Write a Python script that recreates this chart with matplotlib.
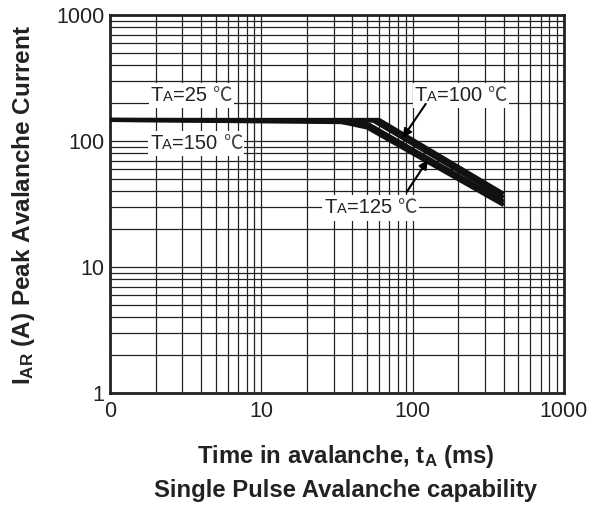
import matplotlib
matplotlib.use('Agg')
import matplotlib.pyplot as plt
from matplotlib.ticker import FixedLocator, LogLocator, NullFormatter
from matplotlib.offsetbox import TextArea, HPacker, AnnotationBbox

plt.rcParams['font.family'] = ['Liberation Sans', 'Noto Sans CJK SC', 'DejaVu Sans']
plt.rcParams['mathtext.fontset'] = 'custom'
plt.rcParams['mathtext.rm'] = 'Liberation Sans'
plt.rcParams['mathtext.bf'] = 'Liberation Sans:bold'

# avalanche curves (time ms, current A)
t_25 = [1, 60, 400]
i_25 = [147, 147, 38]
t_100 = [1, 55, 400]
i_100 = [147, 145, 35.5]
t_125 = [1, 40, 52, 400]
i_125 = [147, 141, 134, 33]
t_150 = [1, 30, 50, 400]
i_150 = [147, 146, 128, 31]

x_ticks = [1, 10, 100, 1000]
x_tick_labels = ['0', '10', '100', '1000']
y_ticks = [1, 10, 100, 1000]
y_tick_labels = ['1', '10', '100', '1000']


def temp_label(ax, x, y, temp):
    """T with a small A, then the temperature, on a white box."""
    parts = [TextArea('T', textprops=dict(fontsize=14.5, color='#222222')),
             TextArea('A', textprops=dict(fontsize=10.5, color='#222222')),
             TextArea('=' + temp, textprops=dict(fontsize=14.5, color='#222222')),
             TextArea('℃', textprops=dict(fontsize=14, color='#444444',
                                          family=['Noto Sans CJK SC']))]
    pack = HPacker(children=parts, align='baseline', pad=0, sep=0)
    # small gap between the number and the degree sign
    pack = HPacker(children=[HPacker(children=parts[:3], align='baseline', pad=0, sep=0),
                             parts[3]], align='baseline', pad=0, sep=4)
    ab = AnnotationBbox(pack, (x, y), xycoords='data', frameon=True, pad=0.15,
                        bboxprops=dict(facecolor='white', edgecolor='none'), zorder=4)
    ax.add_artist(ab)


fig = plt.figure(figsize=(5.99, 5.08), dpi=100)
ax = fig.add_axes([110 / 599, 115 / 508, 454 / 599, 378 / 508])

for t, i in [(t_25, i_25), (t_100, i_100), (t_125, i_125), (t_150, i_150)]:
    ax.plot(t, i, color='#111111', lw=3, solid_capstyle='butt', zorder=3)

ax.set_xscale('log')
ax.set_yscale('log')
ax.set_xlim(1, 1000)
ax.set_ylim(1, 1000)

ax.xaxis.set_major_locator(FixedLocator(x_ticks))
ax.set_xticklabels(x_tick_labels)
ax.yaxis.set_major_locator(FixedLocator(y_ticks))
ax.set_yticklabels(y_tick_labels)
ax.xaxis.set_minor_locator(LogLocator(base=10, subs=range(2, 10)))
ax.yaxis.set_minor_locator(LogLocator(base=10, subs=range(2, 10)))
ax.xaxis.set_minor_formatter(NullFormatter())
ax.yaxis.set_minor_formatter(NullFormatter())
ax.tick_params(which='both', length=0, labelsize=15.5, colors='#222222')
ax.tick_params(axis='x', pad=6)
ax.tick_params(axis='y', pad=4)

ax.grid(which='both', color='#222222', lw=0.9)
ax.set_axisbelow(True)
for s in ax.spines.values():
    s.set_linewidth(2)
    s.set_color('#222222')

temp_label(ax, 3.44, 228, '25')
temp_label(ax, 3.71, 96, '150')
temp_label(ax, 208, 228, '100')
temp_label(ax, 52.7, 29.4, '125')

arrow = dict(arrowstyle='-|>', color='black', lw=1.5, mutation_scale=13, shrinkA=0, shrinkB=0)
ax.annotate('', xy=(85.9, 106), xytext=(122, 197), arrowprops=arrow, zorder=5)
ax.annotate('', xy=(126, 70.7), xytext=(91.3, 39.4), arrowprops=arrow, zorder=5)

fig.text(24 / 599, 1 - 205 / 508, r'I$\mathbf{_{AR}}$ (A) Peak Avalanche Current',
         rotation=90, ha='center', va='center', fontsize=17.5, fontweight='bold', color='#222222')
fig.text(346 / 599, 1 - 457 / 508, r'Time in avalanche, t$\mathbf{_A}$ (ms)',
         ha='center', va='center', fontsize=17.2, fontweight='bold', color='#222222')
fig.text(345 / 599, 1 - 490 / 508, 'Single Pulse Avalanche capability',
         ha='center', va='center', fontsize=17.2, fontweight='bold', color='#222222')

fig.savefig('out.png', dpi=100)
